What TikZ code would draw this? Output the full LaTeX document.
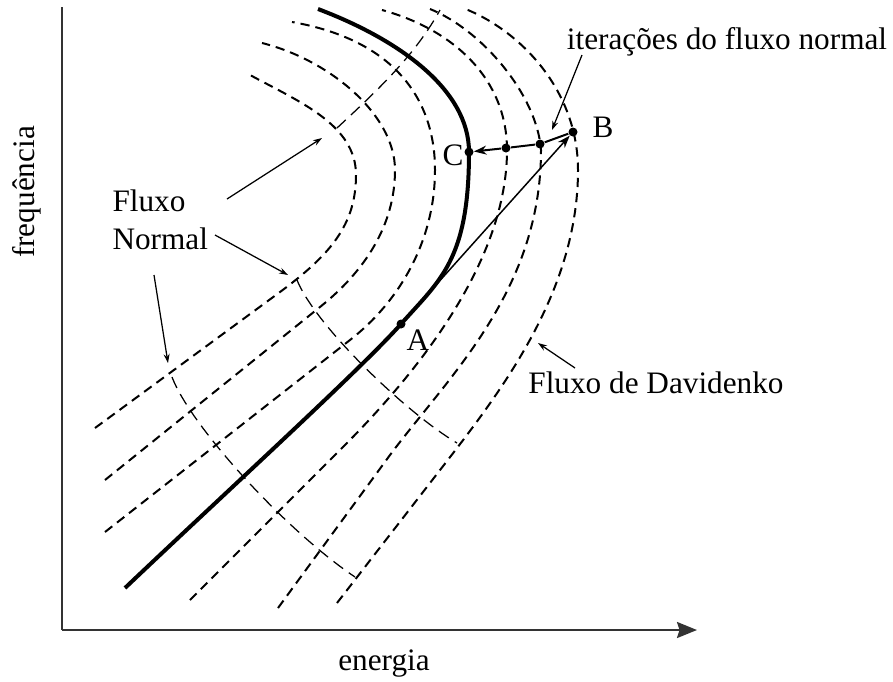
\documentclass[tikz,border=0pt]{standalone}
\usepackage{fontspec}
\setmainfont{Liberation Serif}
\usetikzlibrary{arrows.meta}

\begin{document}
\begin{tikzpicture}[x=0.4pt, y=-0.4pt,
  lbl/.style={font=\fontsize{12.5}{15}\selectfont, inner sep=0pt},
  dav/.style={line width=0.8pt, dash pattern=on 3.7pt off 2.4pt},
  nrm/.style={line width=0.5pt, dash pattern=on 4.8pt off 2.8pt},
  ptr/.style={line width=0.5pt, -{Stealth[length=3.6pt,width=2.4pt]}},
  pt/.style={circle, fill, inner sep=0pt, minimum size=3.6pt}]
  \useasboundingbox (0,0) rectangle (893,681);

  % axes
  \draw[black!80, line width=0.9pt] (62,7) -- (62,630);
  \draw[black!80, line width=0.9pt, -{Stealth[length=8pt,width=6.4pt,inset=1pt]}] (62,630) -- (697,630);
  \node[lbl, rotate=90] (freq) at (27,192) {frequência};
  \node[lbl] (ener) at (384,664) {energia};

  % Davidenko flow, inner curves
  \draw[dav] (95,428) -- (280,292) .. controls (330,255) and (356,225) .. (356,175)
             .. controls (356,125) and (300,102) .. (250,75);
  \draw[dav] (105,480) -- (320,307) .. controls (365,271) and (395,225) .. (395,170)
             .. controls (395,115) and (330,60) .. (262,43);
  \draw[dav] (105,532) -- (350,340) .. controls (400,301) and (435,240) .. (435,170)
             .. controls (435,100) and (395,40) .. (292,22);
  % Davidenko flow, outer curves
  \draw[dav] (190,600) -- (343,447) .. controls (420,370) and (507,260) .. (507,150)
             .. controls (507,80) and (455,30) .. (382,10);
  \draw[dav] (278,608) -- (390,455) .. controls (450,375) and (541,290) .. (541,150)
             .. controls (537,95) and (482,30) .. (430,9);
  \draw[dav] (337,603) -- (430,483) .. controls (490,405) and (578,300) .. (578,170)
             .. controls (578,90) and (520,30) .. (463,8);

  % solid path
  \draw[line width=1.6pt] (125,588) .. controls (225,493) and (361,369) .. (401,324)
             .. controls (440,280) and (469,260) .. (469,152)
             .. controls (469,90) and (400,40) .. (318,9);

  % normal flow
  \draw[nrm] (337,128) .. controls (380,88) and (415,55) .. (440,10);
  \draw[nrm] (297,280) .. controls (315,325) and (405,412) .. (457,443);
  \draw[nrm] (172,377) .. controls (190,425) and (285,530) .. (355,577);

  % points
  \node[pt] (A) at (401,324) {};
  \node[pt] (C) at (469,152) {};
  \node[pt] (I1) at (506,148) {};
  \node[pt] (I2) at (540,144) {};
  \node[pt] (B) at (573,132) {};
  \node[lbl] (lA) at (418,340) {A};
  \node[lbl] (lB) at (603,127) {B};
  \node[lbl] (lC) at (453,155) {C};

  \draw[line width=0.6pt, -{Stealth[length=5pt,width=3.6pt]}] (A) -- (B);
  \draw[line width=0.8pt, -{Stealth[length=5pt,width=3.6pt]}] (B) -- (I2) -- (I1) -- (C);

  % labels and pointers
  \node[lbl, align=left, anchor=west] (fnorm) at (112,220) {Fluxo\\Normal};
  \coordinate (f1) at (227,199);  \coordinate (g1) at (322,138);
  \coordinate (f2) at (215,235);  \coordinate (g2) at (288,275);
  \coordinate (f3) at (154,275);  \coordinate (g3) at (168,363);
  \draw[ptr] (f1) -- (g1);
  \draw[ptr] (f2) -- (g2);
  \draw[ptr] (f3) -- (g3);

  \node[lbl] (iter) at (727,42) {iterações do fluxo normal};
  \coordinate (f4) at (582,55);  \coordinate (g4) at (552,130);
  \draw[ptr] (f4) -- (g4);

  \node[lbl] (dvk) at (656,383) {Fluxo de Davidenko};
  \coordinate (f5) at (575,368);  \coordinate (g5) at (538,343);
  \draw[ptr] (f5) -- (g5);
\end{tikzpicture}
\end{document}
